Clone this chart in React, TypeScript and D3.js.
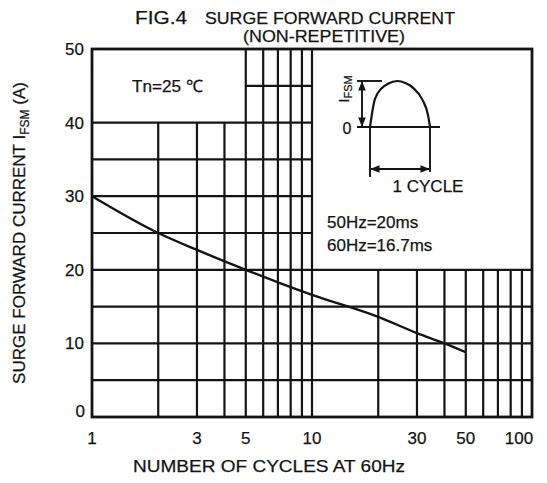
import * as d3 from "d3";

// curve: cycles (at 60Hz) vs surge current (A)
const cycles = [1, 2, 3, 5, 7, 10, 20, 30, 40, 50];
const current = [30, 25, 22.7, 20, 18.3, 16.6, 13.6, 11.4, 10, 8.8];

const xTicks = [1, 3, 5, 10, 30, 50, 100];
const yTicks = [0, 10, 20, 30, 40, 50];

// the printed grid is broken into blocks, so each line has its own extent
const gridV = [
  { x: 2, y0: 0, y1: 40 },
  { x: 3, y0: 0, y1: 40 },
  { x: 4, y0: 0, y1: 40 },
  { x: 5, y0: 0, y1: 50 },
  { x: 6, y0: 0, y1: 50 },
  { x: 7, y0: 0, y1: 50 },
  { x: 8, y0: 0, y1: 50 },
  { x: 9, y0: 0, y1: 50 },
  { x: 10, y0: 0, y1: 50 },
  { x: 20, y0: 0, y1: 20 },
  { x: 30, y0: 0, y1: 20 },
  { x: 40, y0: 0, y1: 20 },
  { x: 50, y0: 0, y1: 20 },
  { x: 60, y0: 0, y1: 20 },
  { x: 70, y0: 0, y1: 20 },
  { x: 80, y0: 0, y1: 20 },
  { x: 90, y0: 0, y1: 20 },
];
const gridH = [
  { y: 45, x0: 5, x1: 10 },
  { y: 40, x0: 1, x1: 10 },
  { y: 35, x0: 1, x1: 10 },
  { y: 30, x0: 1, x1: 10 },
  { y: 25, x0: 1, x1: 10 },
  { y: 20, x0: 1, x1: 100 },
  { y: 15, x0: 1, x1: 100 },
  { y: 10, x0: 1, x1: 100 },
  { y: 5, x0: 1, x1: 100 },
];

// half-wave sketch in the inset (phase 0..1, amplitude 0..1)
const wavePhase = [0, 0.02, 0.08, 0.2, 0.3, 0.45, 0.6, 0.72, 0.87, 0.97, 1];
const waveAmp = [0, 0.18, 0.6, 0.85, 0.94, 1, 0.95, 0.85, 0.6, 0.24, 0];

const W = 547;
const H = 483;
const INK = "#141414";
const FONT = "'Liberation Sans', Arial, sans-serif";

export default function App() {
  const x = d3.scaleLog().domain([1, 100]).range([92, 532]);
  const y = d3.scaleLinear().domain([0, 50]).range([417, 49]);

  const line = d3
    .line<number>()
    .x((_, i) => x(cycles[i]))
    .y((d) => y(d))
    .curve(d3.curveMonotoneX);

  // inset geometry
  const wx = d3.scaleLinear().domain([0, 1]).range([370, 430]);
  const wy = d3.scaleLinear().domain([0, 1]).range([127, 81]);
  const wave = d3
    .line<number>()
    .x((_, i) => wx(wavePhase[i]))
    .y((d) => wy(d))
    .curve(d3.curveMonotoneX);

  const txt = { fill: INK, stroke: INK, strokeWidth: 0.25 };

  return (
    <svg width={W} height={H} style={{ position: "absolute", left: 0, top: 0, background: "#fff" }} fontFamily={FONT}>
      <defs>
        <marker id="ah" viewBox="0 0 10 10" refX="9" refY="5" markerWidth="5" markerHeight="5" orient="auto-start-reverse">
          <path d="M0,1 L10,5 L0,9 z" fill={INK} />
        </marker>
      </defs>

      {/* title */}
      <text x={135} y={24} fontSize={18} {...txt} textLength={52} lengthAdjust="spacingAndGlyphs">FIG.4</text>
      <text x={205} y={24} fontSize={17} {...txt} textLength={250} lengthAdjust="spacingAndGlyphs">SURGE FORWARD CURRENT</text>
      <text x={324} y={42} fontSize={16} {...txt} textAnchor="middle" textLength={162} lengthAdjust="spacingAndGlyphs">(NON-REPETITIVE)</text>

      {/* grid */}
      <g stroke={INK} strokeWidth={2.2}>
        {gridV.map((g) => (
          <line key={"v" + g.x} x1={x(g.x)} x2={x(g.x)} y1={y(g.y0)} y2={y(g.y1)} />
        ))}
        {gridH.map((g) => (
          <line key={"h" + g.y} x1={x(g.x0)} x2={x(g.x1)} y1={y(g.y)} y2={y(g.y)} />
        ))}
      </g>
      <rect x={x(1)} y={y(50)} width={x(100) - x(1)} height={y(0) - y(50)} fill="none" stroke={INK} strokeWidth={2.8} />

      {/* curve */}
      <path d={line(current) ?? ""} fill="none" stroke={INK} strokeWidth={2.4} />

      {/* y ticks */}
      <g fontSize={17} {...txt} textAnchor="end">
        {yTicks.map((t) => (
          <text key={t} x={t === 0 ? 85 : 84} y={y(t) + (t === 0 ? 0 : 6)}>{t}</text>
        ))}
      </g>
      {/* x ticks */}
      <g fontSize={17} {...txt} textAnchor="middle">
        {xTicks.map((t) => (
          <text key={t} x={t === 100 ? x(t) - 13 : x(t)} y={444}>{t}</text>
        ))}
      </g>

      {/* axis titles */}
      <text x={269} y={472} fontSize={17} {...txt} textAnchor="middle" textLength={272} lengthAdjust="spacingAndGlyphs">NUMBER OF CYCLES AT 60Hz</text>
      <text transform="translate(25,233) rotate(-90)" fontSize={17} {...txt} textAnchor="middle">
        SURGE FORWARD CURRENT I<tspan fontSize={12} dy={4}>FSM</tspan><tspan dy={-4}> (A)</tspan>
      </text>

      {/* annotations */}
      <text x={132} y={92} fontSize={17} {...txt} textLength={71} lengthAdjust="spacingAndGlyphs">Tn=25 ℃</text>
      <text x={327} y={228} fontSize={17} {...txt}>50Hz=20ms</text>
      <text x={327} y={251} fontSize={17} {...txt}>60Hz=16.7ms</text>

      {/* inset waveform */}
      <g stroke={INK} fill="none" strokeWidth={1.9}>
        <line x1={wx(0) - 13} x2={wx(1) + 10} y1={wy(0)} y2={wy(0)} />
        <line x1={wx(0) - 13} x2={wx(0) + 12} y1={wy(1)} y2={wy(1)} />
        <line x1={wx(0) - 8} x2={wx(0) - 8} y1={wy(1) + 1} y2={wy(0) - 1} markerStart="url(#ah)" markerEnd="url(#ah)" />
        <path d={wave(waveAmp) ?? ""} strokeWidth={2.2} />
        <line x1={wx(0)} x2={wx(0)} y1={wy(0)} y2={wy(0) + 50} />
        <line x1={wx(1)} x2={wx(1)} y1={wy(0)} y2={wy(0) + 45} />
        <line x1={wx(0) + 1} x2={wx(1) - 1} y1={wy(0) + 42} y2={wy(0) + 42} markerStart="url(#ah)" markerEnd="url(#ah)" />
      </g>
      <text x={428} y={192} fontSize={17} {...txt} textAnchor="middle">1 CYCLE</text>
      <text transform={`translate(349,89) rotate(-90)`} fontSize={15} {...txt} textAnchor="middle">
        I<tspan fontSize={11} dy={3}>FSM</tspan>
      </text>
      <text x={347} y={134} fontSize={16} {...txt} textAnchor="middle">0</text>
    </svg>
  );
}
